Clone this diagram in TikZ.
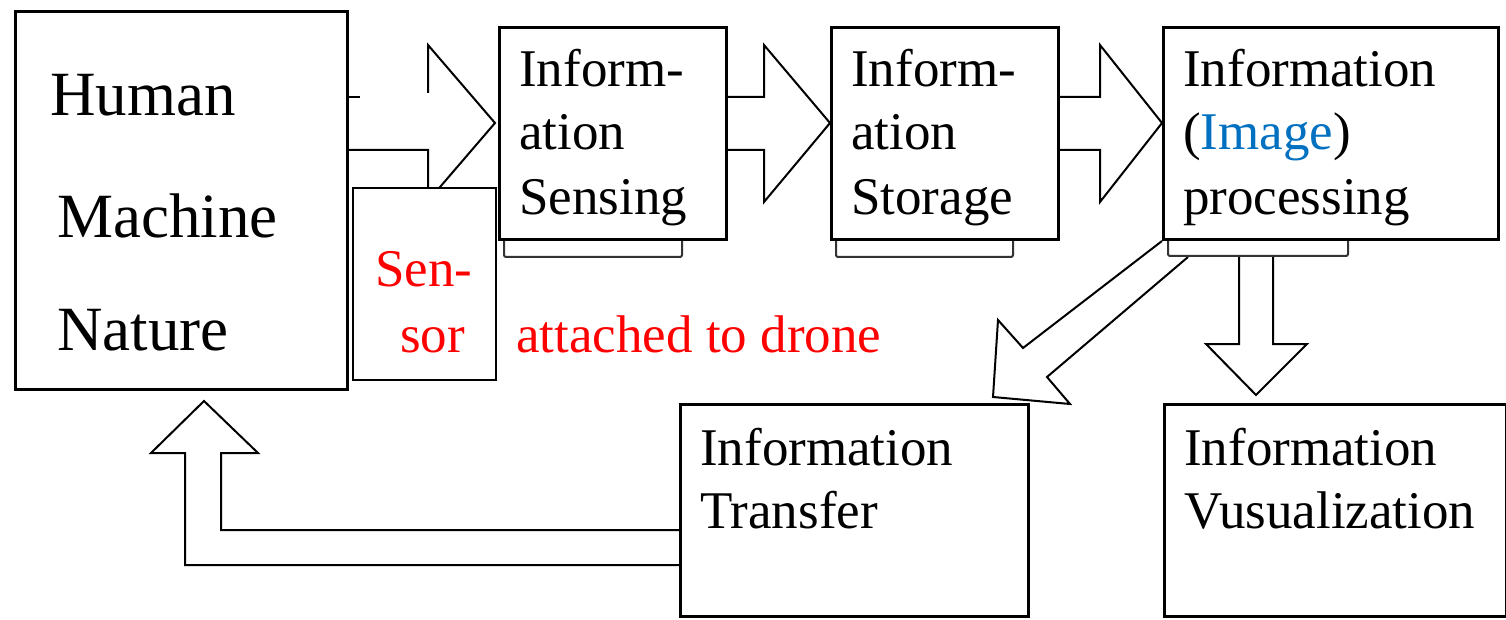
\documentclass[tikz,border=0pt]{standalone}
\usepackage{fontspec}
\setmainfont{Liberation Serif}
\definecolor{sensred}{RGB}{255,0,0}
\definecolor{imgblue}{RGB}{0,112,192}
\pgfdeclarelayer{arrowlayer}
\pgfdeclarelayer{shadowlayer}
\pgfsetlayers{arrowlayer,shadowlayer,main}
\begin{document}
\begin{tikzpicture}[x=1pt,y=-1pt,
  box/.style={draw=black, line width=3pt, fill=white, inner sep=0pt, anchor=north west},
  shadowbox/.style={draw=black!80, line width=2pt, fill=white, rounded corners=2pt, inner sep=0pt, anchor=north west},
  blockarrow/.style={draw=black, line width=2pt, fill=white, line join=miter},
  arrowline/.style={draw=black, line width=2pt, line join=miter},
  txt/.style={anchor=base west, inner sep=0pt, font=\fontsize{53}{63}\selectfont},
  bigtxt/.style={anchor=base west, inner sep=0pt, font=\fontsize{63}{75}\selectfont},
]
\useasboundingbox (0,0) rectangle (1506,620);

% ---- blocks ----
\node[box, minimum width=332pt, minimum height=378pt] (hmn) at (14,10) {};
\node[box, line width=2pt, minimum width=143pt, minimum height=192pt] (sensor) at (352,187) {};
\node[box, minimum width=227pt, minimum height=212pt] (sensing) at (498,26) {};
\node[box, minimum width=227pt, minimum height=212pt] (storage) at (830,26) {};
\node[box, minimum width=335pt, minimum height=212pt] (processing) at (1162,26) {};
\node[box, minimum width=348pt, minimum height=212pt] (transfer) at (679,403) {};
\node[box, minimum width=342pt, minimum height=212pt] (visual) at (1163,403) {};

% ---- shadow plates under the top row ----
\begin{pgfonlayer}{shadowlayer}
\node[shadowbox, minimum width=178pt, minimum height=26pt] (sensingsh) at (503,230) {};
\node[shadowbox, minimum width=177pt, minimum height=26pt] (storagesh) at (835,230) {};
\node[shadowbox, minimum width=180pt, minimum height=25pt] (processingsh) at (1167,230) {};
\end{pgfonlayer}

% ---- block arrows ----
\begin{pgfonlayer}{arrowlayer}
% Human/Machine/Nature -> Sensing (lower part hidden by the sensor box)
\fill[white] (hmn.east |- 0,97) -- (428,97) -- (428,45) -- (sensing.west |- 0,123) -- (428,201)
  -- (428,150) -- (hmn.east |- 0,150) -- cycle;
\draw[arrowline] (hmn.east |- 0,97) -- (360,97);
\draw[arrowline] (428,93) -- (428,45) -- ([xshift=-3pt]sensing.west |- 0,123) -- (428,201)
  -- (428,150) -- (hmn.east |- 0,150);
% Sensing -> Storage
\draw[blockarrow] (sensing.east |- 0,97) -- (764,97) -- (764,45) -- (storage.west |- 0,123)
  -- (764,202) -- (764,150) -- (sensing.east |- 0,150);
% Storage -> Processing
\draw[blockarrow] (storage.east |- 0,97) -- (1100,97) -- (1100,45) -- (processing.west |- 0,123)
  -- (1100,202) -- (1100,150) -- (storage.east |- 0,150);
% Processing -> Transfer
\draw[blockarrow] (processing.south west) -- (1023,348) -- (998,320) -- (993,397) -- (1070,404)
  -- (1047,377) -- (processingsh.south west -| 1188,0);
% Processing -> Visualization
\draw[blockarrow] (processingsh.south -| 1239,0) -- (1239,344) -- (1206,344) -- (1256,395)
  -- (1307,344) -- (1273,344) -- (processingsh.south -| 1273,0);
% Transfer -> Human/Machine/Nature
\draw[blockarrow] (transfer.west |- 0,530) -- (221,530) -- (221,453) -- (258,453) -- (204,401)
  -- (151,453) -- (185,453) -- (185,565) -- (transfer.west |- 0,565);
\end{pgfonlayer}

% ---- texts ----
\node[bigtxt] (tHuman) at (50,116) {Human};
\node[bigtxt] (tMachine) at (57,238) {Machine};
\node[bigtxt] (tNature) at (57,350) {Nature};

\node[txt, text=sensred] (tSen) at (375,287) {Sen-};
\node[txt, text=sensred] (tSor) at (400,352) {sor};
\node[txt, text=sensred] (tDrone) at (516,352) {attached to drone};

\node[txt] (tSe1) at (519,87) {Inform-};
\node[txt] (tSe2) at (519,150) {ation};
\node[txt] (tSe3) at (519,215) {Sensing};

\node[txt] (tSt1) at (851,87) {Inform-};
\node[txt] (tSt2) at (851,150) {ation};
\node[txt] (tSt3) at (851,215) {Storage};

\node[txt] (tPr1) at (1183,87) {Information};
\node[txt] (tPr2) at (1183,150) {(\textcolor{imgblue}{Image})};
\node[txt] (tPr3) at (1183,215) {processing};

\node[txt] (tTr1) at (700,465) {Information};
\node[txt] (tTr2) at (700,528) {Transfer};

\node[txt] (tVi1) at (1184,465) {Information};
\node[txt] (tVi2) at (1184,528) {Vusualization};
\end{tikzpicture}
\end{document}
